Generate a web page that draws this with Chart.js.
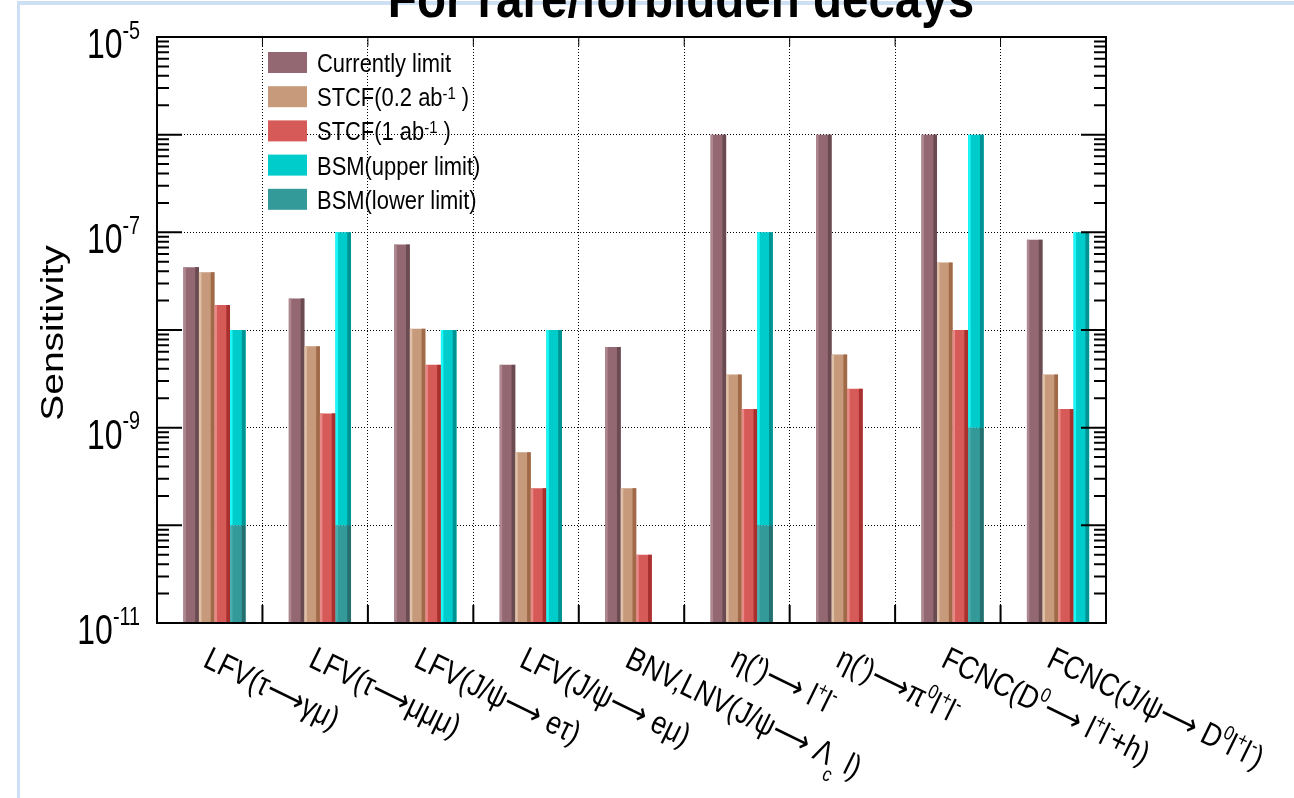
<!DOCTYPE html>
<html>
<head>
<meta charset="utf-8">
<title>Sensitivity for rare/forbidden decays</title>
<script src="https://cdn.jsdelivr.net/npm/chart.js@4.4.0/dist/chart.umd.min.js"></script>
<style>
  html, body { margin: 0; padding: 0; background: #fff; }
  #wrap { position: relative; width: 1294px; height: 798px; }
</style>
</head>
<body>
<div id="wrap"><canvas id="sens-chart"></canvas></div>
<script>
// ^{..} = superscript, _{..} = subscript
const CHANNELS = [
    'LFV(τ⟶γμ)',
    'LFV(τ⟶μμμ)',
    'LFV(J/ψ⟶ eτ)',
    'LFV(J/ψ⟶ eμ)',
    'BNV,LNV(J/ψ⟶ Λ_{c} l)',
    "η(')⟶ l^{+}l^{-}",
    "η(')⟶π^{0}l^{+}l^{-}",
    'FCNC(D^{0}⟶ l^{+}l^{-}+h)',
    'FCNC(J/ψ⟶ D^{0}l^{+}l^{-})',
];

const CURRENT_LIMIT = [4.4e-8, 2.1e-8, 7.5e-8, 4.4e-9, 6.7e-9, 1e-6, 1e-6, 1e-6, 8.4e-8];
const STCF_02 = [3.9e-8, 6.8e-9, 1.03e-8, 5.6e-10, 2.4e-10, 3.5e-9, 5.6e-9, 4.9e-8, 3.5e-9];
const STCF_1 = [1.8e-8, 1.4e-9, 4.4e-9, 2.4e-10, 5e-11, 1.55e-9, 2.5e-9, 1e-8, 1.55e-9];
const BSM_UPPER = [1e-8, 1e-7, 1e-8, 1e-8, null, 1e-7, null, 1e-6, 1e-7];
const BSM_LOWER = [1e-10, 1e-10, null, null, null, 1e-10, null, 1e-9, null];

const SERIES_LABELS = [
    'Currently limit',
    'STCF(0.2 ab^{-1} )',
    'STCF(1 ab^{-1} )',
    'BSM(upper limit)',
    'BSM(lower limit)',
];

const Y_MIN = 1e-11;
const Y_MAX = 1e-5;
const Y_TICK_VALUES = [1e-5, 1e-7, 1e-9, 1e-11];
const Y_TICK_LABELS = ['10^{-5}', '10^{-7}', '10^{-9}', '10^{-11}'];

const FONT = '"Liberation Sans", Arial, "DejaVu Sans", sans-serif';

// fill / lit left edge / shaded right edge
const SERIES_STYLE = [
    { fill: '#946872', light: '#ad8890', dark: '#6b4b52' },
    { fill: '#c69a7b', light: '#dfc0a9', dark: '#a06a48' },
    { fill: '#d65a57', light: '#e78a87', dark: '#a8312f' },
    { fill: '#00cccc', light: '#1cf7f7', dark: '#009393' },
    { fill: '#339999', light: '#4aadad', dark: '#256f6f' },
];

const GROUP_CENTER = 0.545;  // bars sit slightly right of the bin centre

function parseRich(str) {
    const segs = [];
    const re = /([\^_])\{([^}]*)\}/g;
    let last = 0, m;
    while ((m = re.exec(str))) {
        if (m.index > last) segs.push({ t: str.slice(last, m.index), mode: '' });
        segs.push({ t: m[2], mode: m[1] });
        last = re.lastIndex;
    }
    if (last < str.length) segs.push({ t: str.slice(last), mode: '' });
    return segs;
}

// draws text with super/subscripts, baseline at y; returns the width
function drawRich(ctx, str, x, y, size, o) {
    o = Object.assign({ weight: '', supScale: 0.6, supRaise: 0.4, subDrop: 0.4, measure: false }, o || {});
    let cx = x;
    for (const s of parseRich(str)) {
        const fs = s.mode ? size * o.supScale : size;
        const dy = s.mode === '^' ? -size * o.supRaise : (s.mode === '_' ? size * o.subDrop : 0);
        ctx.font = `${o.weight} ${fs}px ${FONT}`;
        if (!o.measure) ctx.fillText(s.t, cx, y + dy);
        cx += ctx.measureText(s.t).width;
    }
    return cx - x;
}

function makeData(values) {
    return values.map((v, i) => ({ x: i + GROUP_CENTER, y: v }));
}

const bsmUpperData = BSM_UPPER.map((v, i) => ({
    x: i + GROUP_CENTER,
    y: v === null ? null : (BSM_LOWER[i] !== null ? [BSM_LOWER[i], v] : v),
}));

const datasets = [
    { label: SERIES_LABELS[0], data: makeData(CURRENT_LIMIT), stack: 's0' },
    { label: SERIES_LABELS[1], data: makeData(STCF_02), stack: 's1' },
    { label: SERIES_LABELS[2], data: makeData(STCF_1), stack: 's2' },
    { label: SERIES_LABELS[3], data: bsmUpperData, stack: 'bsm' },
    { label: SERIES_LABELS[4], data: makeData(BSM_LOWER), stack: 'bsm' },
].map((ds, i) => Object.assign(ds, {
    backgroundColor: SERIES_STYLE[i].fill,
    borderWidth: 0,
    barPercentage: 1,
    categoryPercentage: 0.59,
}));

const decor = {
    id: 'decor',
    beforeDraw(chart) {
        const ctx = chart.ctx;
        ctx.save();
        ctx.fillStyle = '#cddff2';
        ctx.fillRect(17, 1, chart.width - 17, 4);
        ctx.fillRect(17, 1, 3, chart.height);
        ctx.restore();
    },
    afterDatasetsDraw(chart) {
        const { ctx, chartArea: a } = chart;
        ctx.save();
        ctx.beginPath();
        ctx.rect(a.left, a.top, a.right - a.left, a.bottom - a.top);
        ctx.clip();
        chart.data.datasets.forEach((ds, di) => {
            const meta = chart.getDatasetMeta(di);
            const st = SERIES_STYLE[di];
            meta.data.forEach((bar, i) => {
                if (meta.controller.getParsed(i).y == null) return;
                const { x, y, base, width } = bar.getProps(['x', 'y', 'base', 'width'], true);
                const left = x - width / 2;
                const h = base - y;
                ctx.fillStyle = st.light;
                ctx.fillRect(left, y, width * 0.16, h);
                ctx.fillStyle = st.dark;
                ctx.fillRect(left + width * 0.76, y, width * 0.24, h);
            });
        });
        ctx.restore();
    },
    afterDraw(chart) {
        const { ctx, chartArea: a, scales } = chart;
        const xs = scales.x, ys = scales.y;
        ctx.save();
        ctx.fillStyle = '#000';
        ctx.strokeStyle = '#000';

        // frame
        ctx.lineWidth = 2;
        ctx.strokeRect(a.left, a.top, a.right - a.left, a.bottom - a.top);

        // log ticks on left and right axes
        ctx.beginPath();
        for (let e = -11; e <= -5; e++) {
            const py = ys.getPixelForValue(Math.pow(10, e));
            ctx.moveTo(a.left, py); ctx.lineTo(a.left + 25, py);
            ctx.moveTo(a.right, py); ctx.lineTo(a.right - 25, py);
            if (e === -5) continue;
            for (let m = 2; m <= 9; m++) {
                const pm = ys.getPixelForValue(m * Math.pow(10, e));
                ctx.moveTo(a.left, pm); ctx.lineTo(a.left + 12, pm);
                ctx.moveTo(a.right, pm); ctx.lineTo(a.right - 12, pm);
            }
        }
        ctx.stroke();

        // bin edge ticks on bottom and top axes
        ctx.beginPath();
        for (let i = 1; i < CHANNELS.length; i++) {
            const px = xs.getPixelForValue(i);
            ctx.moveTo(px, a.bottom); ctx.lineTo(px, a.bottom - 18);
        }
        ctx.stroke();
        ctx.lineWidth = 1;
        ctx.beginPath();
        for (let i = 1; i < CHANNELS.length; i++) {
            const px = xs.getPixelForValue(i);
            ctx.moveTo(px, a.top); ctx.lineTo(px, a.top + 9);
        }
        ctx.stroke();

        ctx.textAlign = 'left';
        ctx.textBaseline = 'alphabetic';

        // y tick labels
        const tk = 0.76, tsize = 42;
        const tOpt = { supScale: 0.62, supRaise: 0.46 };
        Y_TICK_VALUES.forEach((v, i) => {
            const py = ys.getPixelForValue(v);
            const w = drawRich(ctx, Y_TICK_LABELS[i], 0, 0, tsize, Object.assign({ measure: true }, tOpt));
            ctx.save();
            ctx.translate(140 - w * tk, py + 21);
            ctx.scale(tk, 1);
            drawRich(ctx, Y_TICK_LABELS[i], 0, 0, tsize, tOpt);
            ctx.restore();
        });

        // y axis title
        ctx.save();
        ctx.translate(63, 333);
        ctx.scale(0.82, 1);
        ctx.rotate(-Math.PI / 2);
        ctx.font = `39px ${FONT}`;
        ctx.textAlign = 'center';
        ctx.fillText('Sensitivity', 0, 0);
        ctx.restore();

        // slanted channel labels
        const ang = 26 * Math.PI / 180;
        CHANNELS.forEach((lab, i) => {
            const cx = xs.getPixelForValue(i + 0.5);
            ctx.save();
            ctx.translate(cx - 8, 666);
            ctx.rotate(ang);
            ctx.scale(0.9, 1.08);
            drawRich(ctx, lab, 0, 0, 30, { supScale: 0.62, supRaise: 0.42, subDrop: 0.45 });
            ctx.restore();
        });

        // legend
        const lk = 0.86;
        chart.data.datasets.forEach((ds, i) => {
            const top = 52 + i * 34.2;
            ctx.fillStyle = SERIES_STYLE[i].fill;
            ctx.fillRect(268, top, 39, 21);
            ctx.fillStyle = '#000';
            ctx.save();
            ctx.translate(317, top + 20);
            ctx.scale(lk, 1);
            drawRich(ctx, ds.label, 0, 0, 25.5, { supScale: 0.68, supRaise: 0.3 });
            ctx.restore();
        });

        // title, clipped by the top edge
        ctx.save();
        ctx.translate(681, 17);
        ctx.scale(0.88, 1);
        ctx.font = `bold 54px ${FONT}`;
        ctx.textAlign = 'center';
        ctx.fillText('For rare/forbidden decays', 0, 0);
        ctx.restore();

        ctx.restore();
    },
};

const gridOpts = { color: '#000', lineWidth: 1, drawTicks: false, offset: false };

new Chart(document.getElementById('sens-chart'), {
    type: 'bar',
    data: { datasets: datasets },
    options: {
        responsive: true,
        maintainAspectRatio: false,
        animation: false,
        layout: { padding: { left: 157, top: 37, right: 188, bottom: 175 } },
        plugins: {
            legend: { display: false },
            tooltip: { enabled: false },
        },
        scales: {
            x: {
                type: 'linear',
                min: 0,
                max: CHANNELS.length,
                offset: false,
                afterBuildTicks: function (scale) {
                    scale.ticks = CHANNELS.map((_, i) => ({ value: i })).concat([{ value: CHANNELS.length }]);
                },
                ticks: { display: false },
                grid: gridOpts,
                border: { display: false, dash: [1, 2] },
            },
            y: {
                type: 'logarithmic',
                min: Y_MIN,
                max: Y_MAX,
                stacked: false,
                afterBuildTicks: function (scale) {
                    const t = [];
                    for (let e = -11; e <= -5; e++) t.push({ value: Math.pow(10, e) });
                    scale.ticks = t;
                },
                ticks: { display: false },
                grid: gridOpts,
                border: { display: false, dash: [1, 2] },
            },
        },
    },
    plugins: [decor],
});
</script>
</body>
</html>
